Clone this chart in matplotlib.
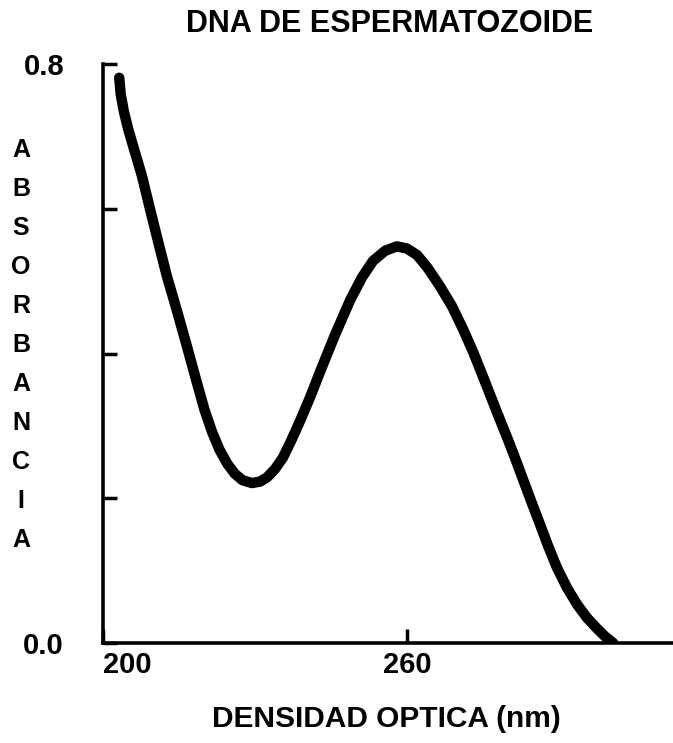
import numpy as np
from matplotlib import pyplot as plt
from matplotlib import font_manager

# Data
wavelength = [203.2, 203.5, 204.1, 204.9, 205.8, 207.7, 209.3, 210.9, 212.6, 214.6,
              216.6, 218.4, 220.0, 221.5, 223.0, 224.5, 226.0, 227.5, 229.4, 231.0,
              232.4, 233.9, 235.5, 237.1, 238.9, 240.9, 242.8, 245.8, 248.8, 251.1,
              253.3, 255.7, 258.0, 260.0, 262.0, 264.1, 266.5, 268.9, 271.1, 273.0,
              275.0, 277.8, 279.7, 281.3, 282.9, 284.5, 286.3, 287.8, 289.6, 291.6,
              293.6, 295.5, 297.5, 299.1, 300.7]
absorbance = [0.781, 0.758, 0.735, 0.712, 0.690, 0.645, 0.599, 0.554, 0.507, 0.459,
              0.409, 0.363, 0.323, 0.292, 0.267, 0.248, 0.234, 0.225, 0.221, 0.223,
              0.229, 0.240, 0.256, 0.279, 0.307, 0.340, 0.374, 0.426, 0.474, 0.505,
              0.528, 0.542, 0.548, 0.545, 0.536, 0.518, 0.493, 0.465, 0.433, 0.403,
              0.368, 0.318, 0.285, 0.256, 0.226, 0.196, 0.163, 0.135, 0.104, 0.076,
              0.053, 0.035, 0.020, 0.009, 0.000]

x_ticks = [200, 260]
x_ticklabels = ['200', '260']
y_ticks = [0.0, 0.2, 0.4, 0.6, 0.8]
y_ticklabels = ['0.0', '', '', '', '0.8']
ylabel_text = 'ABSORBANCIA'

# pick fonts that exist
names = {f.name for f in font_manager.fontManager.ttflist}
wide = 'Liberation Sans' if 'Liberation Sans' in names else 'DejaVu Sans'
narrow = 'Liberation Sans Narrow' if 'Liberation Sans Narrow' in names else wide

fig = plt.figure(figsize=(6.73, 7.43), dpi=100)
ax = fig.add_axes([103/673, 100/743, 1 - 103/673, 579/743])

# the curve
ax.plot(wavelength, absorbance, color='black', linewidth=7.5,
        solid_capstyle='round', solid_joinstyle='round')

ax.set_xlim(200, 312.5)
ax.set_ylim(0, 0.8)

# spines
for side in ['top', 'right']:
    ax.spines[side].set_visible(False)
for side in ['left', 'bottom']:
    ax.spines[side].set_linewidth(2.6)

# ticks
ax.set_xticks(x_ticks)
ax.set_xticklabels(x_ticklabels, fontfamily=wide, fontweight='bold', fontsize=21)
ax.xaxis.get_ticklabels()[0].set_horizontalalignment('left')
ax.set_yticks(y_ticks)
ax.set_yticklabels(y_ticklabels, fontfamily=wide, fontweight='bold', fontsize=21)
ax.tick_params(axis='both', direction='in', length=10, width=2.5, color='black')
ax.tick_params(axis='x', pad=6)
ax.tick_params(axis='y', pad=28)

# title
fig.text(390/673, 0.957, 'DNA DE ESPERMATOZOIDE', ha='center', va='baseline',
         fontfamily=wide, fontweight='bold', fontsize=22)
# x label
fig.text(386/673, 0.022, 'DENSIDAD OPTICA (nm)', ha='center', va='baseline',
         fontfamily=narrow, fontweight='bold', fontsize=21.5)
# stacked y label letters
for letter, yy in zip(ylabel_text, np.linspace(0.798, 0.273, len(ylabel_text))):
    fig.text(21/673, yy, letter, ha='center', va='center',
             fontfamily=wide, fontweight='bold', fontsize=18)

plt.savefig('out.png', dpi=100)
plt.close()
